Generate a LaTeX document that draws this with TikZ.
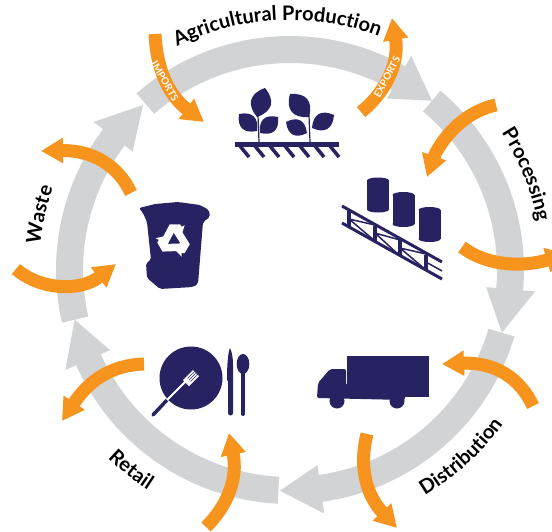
\documentclass[tikz,border=0pt]{standalone}
\usepackage{fontspec}
\setmainfont{Lato}
\usetikzlibrary{arrows.meta,decorations.text}
\definecolor{ringgray}{HTML}{D1D3D4}
\definecolor{orangeline}{HTML}{F7941E}
\definecolor{iconnavy}{HTML}{272262}
\newcommand{\stagefont}{\fontsize{20}{20}\selectfont\bfseries}
% ring piece: tail angle, angle of the head base, angle of the tip
\newcommand{\ringpiece}[3]{
 \fill [ringgray] (#1:207) arc (#1:#2:207) -- (#2:197) -- (#3:221) -- (#2:246) -- (#2:234) arc (#2:#1:234) -- cycle;
}
\begin{document}
\begin{tikzpicture}[x=1pt,y=1pt,
 orangearrow/.style={draw=orangeline,line width=13pt,-{Triangle[length=22pt,width=24pt]}},
 flowlabel/.style={text=white,font=\fontsize{10}{10}\selectfont\bfseries,inner sep=0pt},
 stagetext/.style={decorate,decoration={text along path,text align=center,text={|\stagefont|#1}}},
 leafshape/.style={fill=iconnavy,looseness=1.4}]
 \path [use as bounding box,clip] (0,0) rectangle (552,-531);
 \fill [white] (0,0) rectangle (552,-531);

 \begin{scope}[shift={(290,-270)}]
  \ringpiece{131}{60.5}{50}
  \ringpiece{50}{-5}{-16.5}
  \ringpiece{-16.5}{-82}{-92.6}
  \ringpiece{-93}{-156}{-167}
  \ringpiece{-167}{-217}{-228.3}
 \end{scope}

 \draw [orangearrow] (155,-34) .. controls (157,-75) and (172,-98) .. (204,-122);
 \draw [orangearrow] (361,-112) .. controls (383,-95) and (400,-65) .. (392,-18);
 \draw [orangearrow] (496,-105) .. controls (458,-113) and (437,-148) .. (427,-177);
 \draw [orangearrow] (462,-247) .. controls (485,-265) and (520,-268) .. (568,-254);
 \draw [orangearrow] (533,-406) .. controls (520,-378) and (495,-362) .. (442,-364);
 \draw [orangearrow] (367,-434) .. controls (358,-470) and (368,-497) .. (397,-528);
 \draw [orangearrow] (206,-527) .. controls (228,-505) and (238,-478) .. (229,-433);
 \draw [orangearrow] (144,-364) .. controls (110,-365) and (88,-382) .. (62,-421);
 \draw [orangearrow] (16,-269) .. controls (40,-290) and (80,-292) .. (116,-264);
 \draw [orangearrow] (131,-193) .. controls (118,-165) and (92,-150) .. (41,-151);

 \node (importslabel) [flowlabel,rotate=-60] at (165,-81) {IMPORTS};
 \node (exportslabel) [flowlabel,rotate=62] at (387,-77) {EXPORTS};

 \begin{scope}[shift={(290,-270)}]
  \path [stagetext={Agricultural Production}] (118:250) arc (118:68:250);
  \path [stagetext={Processing}] (34:252) arc (34:10:252);
  \path [stagetext={Distribution}] (-62:263) arc (-62:-33:263);
  \path [stagetext={Retail}] (224:262) arc (224:239:262);
  \path [stagetext={Waste}] (174:251) arc (174:161:251);
 \end{scope}

 % plants
 \fill [iconnavy] (235,-142) rectangle (339,-147);
 \foreach \hx in {240,255,...,330}
  \draw [iconnavy,line width=3.5pt] (\hx,-146) -- (\hx+9,-157);
 \draw [iconnavy,line width=1.2pt] (259,-142) -- (258,-115);
 \draw [iconnavy,line width=1.2pt] (310,-142) -- (309,-115);
 \fill [leafshape] (257,-117) to[bend left=55] (265,-88) to[bend left=55] (257,-117);
 \fill [leafshape] (257,-131) to[bend left=55] (239,-114) to[bend left=55] (257,-131);
 \fill [leafshape] (260,-133) to[bend left=55] (278,-117) to[bend left=55] (260,-133);
 \fill [leafshape] (309,-117) to[bend left=55] (290,-94) to[bend left=55] (309,-117);
 \fill [leafshape] (312,-128) to[bend left=55] (334,-115) to[bend left=55] (312,-128);
 \fill [leafshape] (307,-133) to[bend left=55] (286,-122) to[bend left=55] (307,-133);

 % barrels
 \foreach \bx/\by in {378/-195,403.5/-209.5,429.5/-224.5} {
  \fill [iconnavy] (\bx-11,\by+14.5) rectangle (\bx+11,\by-14.5);
  \fill [iconnavy] (\bx,\by+14.5) ellipse (11 and 3);
  \fill [iconnavy] (\bx,\by-14.5) ellipse (11 and 3);
 }

 % conveyor
 \draw [iconnavy,line width=3pt] (342,-206) -- (442,-262);
 \draw [iconnavy,line width=3pt] (342,-223) -- (442,-279);
 \foreach \rx/\ry in {349/-219,375/-233.5,400/-248,426/-262.5}
  \draw [iconnavy,line width=3.5pt] (\rx,\ry+8) -- (\rx,\ry-8);
 \draw [iconnavy,line width=1.5pt] (349,-219) -- (375,-225) (375,-233) -- (400,-240)
  (400,-248) -- (426,-254) (349,-219) -- (375,-241) (375,-233) -- (400,-256) (400,-248) -- (426,-270)
  (426,-262) -- (442,-271);

 % bin
 \fill [iconnavy,rounded corners=2pt] (139,-208) -- (155,-204) -- (178,-202) -- (200,-205) -- (209,-210) -- (210,-217)
  -- (203,-222) -- (198,-284) -- (193,-287) -- (160,-289) -- (153,-283) -- (147,-278) -- (146,-263)
  -- (151,-260) -- (147,-222) -- (143,-213) -- cycle;
 \begin{scope}[shift={(174,-240)}]
  \foreach \ra in {0,120,240}
   \draw [rotate=\ra,white,line width=7.5pt,-{Triangle[length=6pt,width=14pt]}] (-10,-3) -- (-2,12) -- (4,12) -- (8,6);
 \end{scope}

 % plate
 \fill [iconnavy] (191,-378) circle (31.5);
 \draw [iconnavy,line width=3.5pt,line cap=round] (153,-415) -- (167,-400);
 \draw [white,line width=2pt] (167,-400) -- (186,-381);
 \fill [white] (183,-380) -- (193,-370) -- (199,-376) -- (189,-386) -- cycle;
 \foreach \fo in {-1.5,0,1.5}
  \draw [iconnavy,line width=.6pt] (189+\fo,-380-\fo) -- (197+\fo,-372-\fo);
 \fill [iconnavy] (230,-348) .. controls (232,-352) and (233,-358) .. (233,-365) -- (233,-413)
  arc (0:-180:2.5) -- (228,-381) -- (227,-380) .. controls (227,-365) and (228,-352) .. (230,-348);
 \fill [iconnavy] (243,-364) ellipse (6.3 and 10);
 \draw [iconnavy,line width=4pt,line cap=round] (243,-370) -- (243,-414);

 % truck
 \fill [iconnavy] (347,-356) rectangle (429,-397);
 \fill [iconnavy,rounded corners=2pt] (346,-369) -- (330,-369) -- (318,-383) -- (317,-398) -- (405,-400) -- (405,-385) -- (346,-385) -- cycle;
 \fill [iconnavy] (337,-401) circle (7.5);
 \fill [iconnavy] (397,-401) circle (7.5);
\end{tikzpicture}
\end{document}
